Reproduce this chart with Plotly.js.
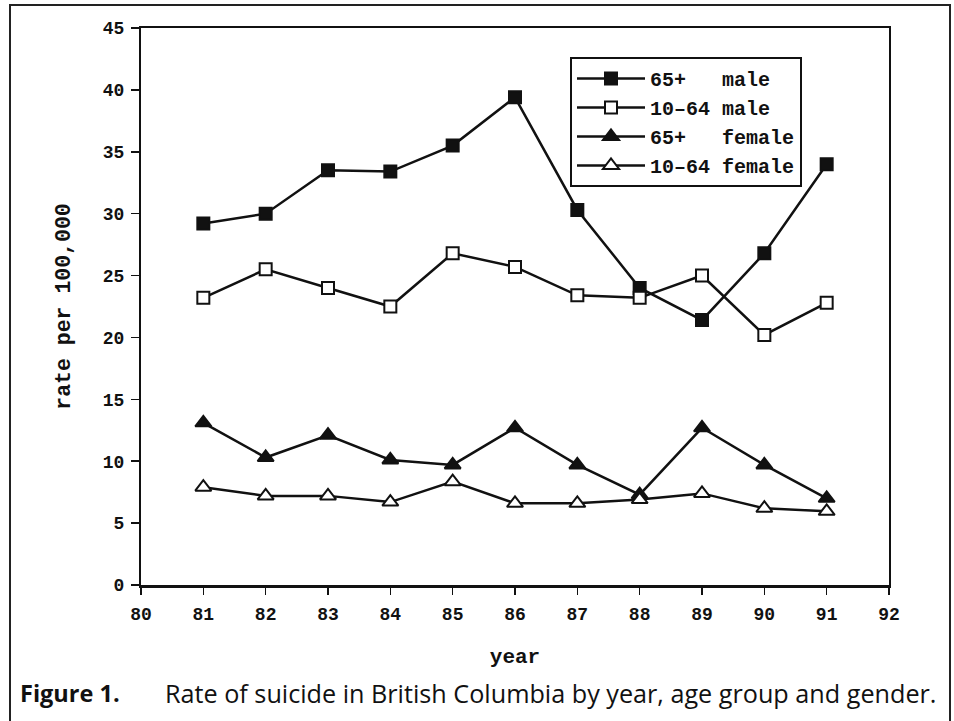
<!DOCTYPE html>
<html>
<head>
<meta charset="utf-8">
<script src="https://cdn.plot.ly/plotly-3.0.1.min.js"></script>
<style>html,body{margin:0;padding:0;background:#fff;}#chart{width:954px;height:721px;}</style>
</head>
<body>
<div id="chart"></div>
<script>
var years = [81, 82, 83, 84, 85, 86, 87, 88, 89, 90, 91];
var male65 = [29.2, 30.0, 33.5, 33.4, 35.5, 39.4, 30.3, 24.0, 21.4, 26.8, 34.0];
var male1064 = [23.2, 25.5, 24.0, 22.5, 26.8, 25.7, 23.4, 23.2, 25.0, 20.2, 22.8];
var female65 = [13.1, 10.3, 12.1, 10.1, 9.7, 12.7, 9.7, 7.3, 12.7, 9.7, 7.0];
var female1064 = [7.9, 7.2, 7.2, 6.7, 8.35, 6.6, 6.6, 6.9, 7.4, 6.2, 5.95];
var seriesNames = ["65+\u00a0\u00a0\u00a0male", "10\u201364\u00a0male", "65+\u00a0\u00a0\u00a0female", "10\u201364\u00a0female"];
var xTicks = [80, 81, 82, 83, 84, 85, 86, 87, 88, 89, 90, 91, 92];
var yTicks = [0, 5, 10, 15, 20, 25, 30, 35, 40, 45];

var mono = "'Liberation Mono', 'DejaVu Sans Mono', monospace";
function tr(y, name, symbol, fill) {
  return {
    x: years, y: y, name: name, type: 'scatter', mode: 'lines+markers',
    line: {color: '#111', width: 2.5},
    marker: {symbol: symbol, size: symbol.indexOf('triangle') === 0 ? 14 : 12, color: fill, line: {color: '#111', width: 2}},
    cliponaxis: false
  };
}
var data = [
  tr(male65, seriesNames[0], 'square', '#111'),
  tr(male1064, seriesNames[1], 'square', '#fff'),
  tr(female65, seriesNames[2], 'triangle-up', '#111'),
  tr(female1064, seriesNames[3], 'triangle-up', '#fff')
];

var L = 141, R = 889, T = 28, B = 585, W = 954, H = 721;
function px(x) { return (x - L) / (R - L); }
function py(y) { return (B - y) / (B - T); }

var layout = {
  width: W, height: H,
  margin: {l: L, r: W - R, t: T, b: H - B, pad: 0},
  paper_bgcolor: '#fff', plot_bgcolor: '#fff',
  showlegend: true,
  font: {family: mono, color: '#111'},
  xaxis: {
    range: [80, 92], tickvals: xTicks, ticktext: xTicks.map(String),
    showgrid: false, zeroline: false, showline: true, mirror: true,
    linecolor: '#111', linewidth: 2.5,
    ticks: 'outside', ticklen: 7, tickwidth: 1.5, tickcolor: '#111',
    ticklabelstandoff: 4,
    tickfont: {family: mono, size: 18, color: '#111', weight: 'bold'},
    title: {text: 'year', font: {family: mono, size: 21, color: '#111', weight: 'bold'}, standoff: 24}
  },
  yaxis: {
    range: [0, 45], tickvals: yTicks, ticktext: yTicks.map(String),
    showgrid: false, zeroline: false, showline: true, mirror: true,
    linecolor: '#111', linewidth: 2,
    ticks: 'outside', ticklen: 8, tickwidth: 1.5, tickcolor: '#111',
    ticklabelstandoff: 3,
    tickfont: {family: mono, size: 18, color: '#111', weight: 'bold'},
    title: {text: 'rate per 100,000', font: {family: mono, size: 21.5, color: '#111', weight: 'bold'}, standoff: 26}
  },
  legend: {
    x: px(570), y: py(57), xanchor: 'left', yanchor: 'top',
    bgcolor: '#fff', bordercolor: '#111', borderwidth: 2,
    font: {family: mono, size: 20, color: '#111', weight: 'bold'},
    entrywidth: 233, tracegroupgap: 0, itemwidth: 68
  },
  shapes: [
    {type: 'rect', xref: 'paper', yref: 'paper', x0: px(10), x1: px(950), y0: py(5), y1: py(730),
     line: {color: '#222', width: 2}, fillcolor: 'rgba(0,0,0,0)', layer: 'below'}
  ],
  annotations: [
    {xref: 'paper', yref: 'paper', x: px(18), y: py(693), xanchor: 'left', yanchor: 'middle', showarrow: false,
     text: '<b>Figure 1.</b>', font: {family: "'Open Sans', sans-serif", size: 23.5, color: '#111'}},
    {xref: 'paper', yref: 'paper', x: px(163), y: py(693), xanchor: 'left', yanchor: 'middle', showarrow: false,
     text: 'Rate of suicide in British Columbia by year, age group and gender.', font: {family: "'Open Sans', sans-serif", size: 25.2, color: '#111'}}
  ]
};
Plotly.newPlot('chart', data, layout, {displayModeBar: false, staticPlot: true});
</script>
</body>
</html>
